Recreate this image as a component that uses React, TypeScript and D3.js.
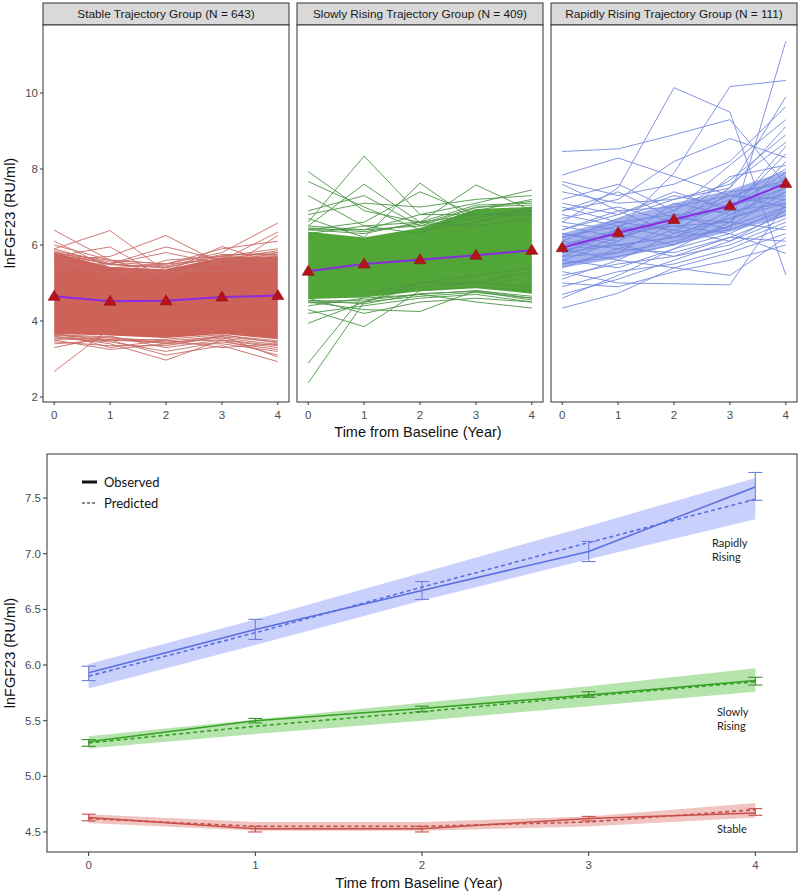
import React from "react";
import * as d3 from "d3";

// ---------- DATA ----------
const years = [0, 1, 2, 3, 4];
const yTicksTop = [2, 4, 6, 8, 10];
const yTicksBottom = [4.5, 5.0, 5.5, 6.0, 6.5, 7.0, 7.5];

const panelTitles = [
  "Stable Trajectory Group (N = 643)",
  "Slowly Rising Trajectory Group (N = 409)",
  "Rapidly Rising Trajectory Group (N = 111)",
];

// group means (top panels)
const stableMean = [4.65, 4.52, 4.53, 4.63, 4.67];
const slowMean = [5.31, 5.5, 5.61, 5.73, 5.86];
const rapidMean = [5.93, 6.32, 6.67, 7.03, 7.62];

// dense cores of individual trajectories (top panels)
const stableCoreUpper = [5.8, 5.42, 5.36, 5.68, 5.7];
const stableCoreLower = [3.66, 3.62, 3.55, 3.66, 3.52];
const slowCoreUpper = [6.35, 6.2, 6.45, 6.95, 7.0];
const slowCoreLower = [4.58, 4.62, 4.78, 4.86, 4.72];
const rapidCoreUpper = [6.3, 6.7, 7.1, 7.45, 7.95];
const rapidCoreLower = [5.4, 5.65, 6.0, 6.35, 6.75];

// individual trajectories outside the dense core
const stableLines = [
  [6.39, 5.6, 5.2, 5.5, 5.3],
  [6.1, 5.4, 5.3, 5.5, 5.6],
  [5.9, 6.38, 5.3, 5.3, 5.4],
  [5.7, 5.95, 5.1, 5.6, 5.6],
  [5.6, 5.7, 6.25, 5.5, 5.4],
  [5.5, 5.5, 5.95, 5.6, 5.7],
  [5.6, 5.3, 5.3, 5.96, 5.5],
  [5.5, 5.4, 5.5, 5.8, 6.58],
  [5.4, 5.3, 5.2, 5.6, 6.34],
  [5.8, 5.5, 5.4, 5.3, 6.25],
  [5.7, 5.1, 5.6, 5.7, 5.9],
  [6.0, 5.6, 5.5, 5.9, 6.1],
  [5.9, 5.5, 5.8, 5.5, 5.8],
  [5.85, 5.55, 5.45, 5.75, 5.75],
  [5.75, 5.5, 5.4, 5.72, 5.8],
  [5.82, 5.48, 5.42, 5.7, 5.72],
  [5.78, 5.6, 5.5, 5.62, 5.85],
  [2.67, 3.8, 3.9, 4.0, 3.8],
  [3.5, 3.25, 3.4, 3.4, 3.2],
  [3.6, 3.4, 2.97, 3.5, 3.3],
  [3.4, 3.5, 3.1, 3.35, 2.93],
  [3.3, 3.6, 3.3, 3.5, 3.1],
  [3.7, 3.3, 3.5, 3.3, 3.4],
  [3.55, 3.45, 3.2, 3.45, 3.25],
  [3.45, 3.35, 3.35, 3.6, 3.05],
  [3.62, 3.55, 3.48, 3.58, 3.45],
  [3.58, 3.5, 3.42, 3.55, 3.38],
  [3.64, 3.58, 3.4, 3.62, 3.48],
  [3.52, 3.52, 3.45, 3.5, 3.35],
  [3.66, 3.48, 3.52, 3.64, 3.42],
];
const slowLines = [
  [7.93, 6.9, 6.6, 6.5, 6.7],
  [7.67, 7.0, 6.4, 6.6, 7.0],
  [6.6, 8.34, 6.8, 6.8, 6.9],
  [6.5, 7.6, 6.6, 6.8, 6.8],
  [6.9, 7.3, 6.5, 6.7, 7.0],
  [6.7, 6.2, 7.63, 6.6, 6.9],
  [6.4, 6.6, 7.4, 6.8, 6.8],
  [6.3, 6.5, 6.6, 7.58, 6.9],
  [6.5, 6.4, 6.8, 7.1, 7.45],
  [7.3, 6.5, 6.3, 6.9, 7.2],
  [6.8, 7.1, 7.0, 7.2, 7.3],
  [6.45, 6.35, 6.55, 7.0, 7.05],
  [6.4, 6.3, 6.6, 7.05, 7.1],
  [6.42, 6.4, 6.5, 6.98, 7.15],
  [2.89, 4.7, 5.0, 5.2, 5.4],
  [2.37, 4.5, 5.0, 5.0, 5.3],
  [3.94, 4.5, 4.9, 5.0, 4.9],
  [4.3, 3.85, 4.8, 4.9, 4.8],
  [4.5, 4.3, 4.25, 4.8, 4.6],
  [4.4, 4.6, 4.7, 4.5, 4.34],
  [4.2, 4.4, 4.6, 4.7, 4.5],
  [4.6, 4.2, 4.5, 4.6, 4.5],
  [4.52, 4.55, 4.7, 4.8, 4.65],
  [4.48, 4.5, 4.65, 4.75, 4.6],
  [4.55, 4.45, 4.72, 4.78, 4.55],
];
const rapidLines = [
  [8.46, 8.53, 8.9, 9.3, 7.6],
  [6.6, 7.5, 10.14, 9.5, 5.21],
  [6.0, 6.4, 7.9, 10.17, 10.33],
  [5.8, 6.0, 6.2, 6.4, 11.36],
  [7.84, 8.29, 7.8, 7.3, 7.0],
  [7.67, 7.3, 7.6, 8.2, 9.64],
  [7.4, 7.1, 7.2, 7.5, 9.12],
  [7.6, 6.9, 7.0, 7.3, 7.2],
  [7.2, 7.6, 6.9, 7.7, 8.9],
  [7.1, 6.8, 7.4, 6.9, 8.6],
  [6.9, 7.2, 8.2, 8.8, 8.3],
  [6.8, 6.5, 6.9, 8.1, 9.3],
  [6.7, 7.0, 6.6, 7.2, 8.0],
  [6.5, 6.2, 6.6, 7.0, 7.9],
  [6.4, 6.9, 6.3, 7.4, 7.6],
  [6.3, 6.1, 7.1, 6.8, 7.5],
  [6.2, 6.6, 6.8, 6.9, 8.4],
  [6.1, 5.9, 6.4, 7.1, 7.3],
  [6.0, 6.3, 6.5, 6.6, 7.8],
  [5.9, 6.0, 6.2, 6.9, 7.1],
  [5.8, 6.4, 6.7, 7.3, 7.7],
  [5.7, 5.8, 6.1, 6.5, 7.0],
  [5.6, 6.1, 6.8, 6.4, 6.9],
  [5.5, 5.7, 6.0, 6.8, 7.4],
  [5.4, 5.9, 5.8, 6.2, 6.8],
  [5.3, 5.0, 4.98, 4.95, 7.1],
  [5.2, 5.5, 5.7, 6.0, 6.6],
  [5.1, 5.6, 6.3, 6.7, 7.2],
  [4.9, 5.3, 5.5, 5.9, 6.5],
  [4.7, 5.1, 5.6, 6.1, 6.9],
  [4.34, 4.73, 5.4, 5.8, 6.3],
  [4.6, 5.2, 5.9, 6.3, 7.0],
  [5.0, 4.9, 5.3, 5.6, 6.0],
  [6.6, 6.4, 6.5, 6.3, 5.78],
  [5.9, 5.6, 5.4, 5.2, 6.2],
  [6.3, 6.0, 5.7, 6.2, 6.1],
  [6.1, 6.7, 7.2, 7.6, 8.7],
  [5.7, 6.2, 6.6, 7.8, 8.1],
  [6.4, 6.8, 7.3, 7.0, 7.5],
  [5.5, 5.8, 6.6, 7.5, 9.9],
  [6.9, 7.4, 6.7, 6.6, 6.4],
  [7.0, 6.6, 6.4, 6.1, 6.7],
  [5.6, 5.4, 5.9, 6.6, 8.2],
  [6.2, 6.5, 6.2, 6.7, 7.1],
  [5.8, 6.3, 6.0, 6.5, 7.4],
];

// bottom panel: observed, predicted, CI band, error bars
const groupLabels = [["Rapidly", "Rising"], ["Slowly", "Rising"], ["Stable"]];
const rapidObserved = [5.93, 6.32, 6.67, 7.02, 7.6];
const rapidPredicted = [5.9, 6.29, 6.7, 7.1, 7.49];
const rapidBandLow = [5.79, 6.18, 6.58, 6.95, 7.31];
const rapidBandHigh = [6.01, 6.41, 6.83, 7.25, 7.68];
const rapidErrLow = [5.86, 6.23, 6.59, 6.93, 7.48];
const rapidErrHigh = [5.99, 6.41, 6.75, 7.11, 7.73];

const slowObserved = [5.31, 5.5, 5.61, 5.73, 5.86];
const slowPredicted = [5.3, 5.45, 5.58, 5.72, 5.85];
const slowBandLow = [5.25, 5.38, 5.5, 5.63, 5.76];
const slowBandHigh = [5.36, 5.51, 5.66, 5.81, 5.97];
const slowErrLow = [5.27, 5.48, 5.58, 5.71, 5.82];
const slowErrHigh = [5.33, 5.52, 5.63, 5.76, 5.89];

const stableObserved = [4.63, 4.53, 4.53, 4.62, 4.67];
const stablePredicted = [4.62, 4.55, 4.55, 4.59, 4.7];
const stableBandLow = [4.58, 4.51, 4.51, 4.55, 4.63];
const stableBandHigh = [4.66, 4.59, 4.59, 4.64, 4.76];
const stableErrLow = [4.6, 4.5, 4.5, 4.6, 4.65];
const stableErrHigh = [4.66, 4.55, 4.55, 4.64, 4.71];

// ---------- STYLES ----------
const FONT = "'Liberation Sans', Arial, sans-serif";
const LFONT = "Lato, 'Open Sans', sans-serif";
const AXIS_GRAY = "#4d4d4d";

const topGroups = [
  { mean: stableMean, up: stableCoreUpper, lo: stableCoreLower, lines: stableLines, color: "#cd6259", lineColor: "#c86b64", coreOpacity: 1 },
  { mean: slowMean, up: slowCoreUpper, lo: slowCoreLower, lines: slowLines, color: "#52a637", lineColor: "#4b9544", coreOpacity: 1 },
  { mean: rapidMean, up: rapidCoreUpper, lo: rapidCoreLower, lines: rapidLines, color: "#7d92e6", lineColor: "#7489e0", coreOpacity: 0.7 },
];

const bottomGroups = [
  { obs: rapidObserved, pred: rapidPredicted, bl: rapidBandLow, bh: rapidBandHigh, el: rapidErrLow, eh: rapidErrHigh, line: "#5a6ee0", band: "#c8d0fb", err: "#6c80dc" },
  { obs: slowObserved, pred: slowPredicted, bl: slowBandLow, bh: slowBandHigh, el: slowErrLow, eh: slowErrHigh, line: "#36a023", band: "#b5e4ad", err: "#3c8f2e" },
  { obs: stableObserved, pred: stablePredicted, bl: stableBandLow, bh: stableBandHigh, el: stableErrLow, eh: stableErrHigh, line: "#c65049", band: "#f2c4c1", err: "#c65049" },
];

function TopPanel({ idx }: { idx: number }) {
  const left = 43 + idx * 254;
  const width = 246;
  const top = 25;
  const bottom = 402;
  const x = d3.scaleLinear().domain([-0.2, 4.2]).range([left, left + width]);
  const y = d3.scaleLinear().domain([1.868, 11.79]).range([bottom, top]);
  const g = topGroups[idx];
  const line = d3.line<number>().x((_, i) => x(years[i])).y((v) => y(v));
  const area = d3
    .area<number>()
    .x((_, i) => x(years[i]))
    .y0((_, i) => y(g.lo[i]))
    .y1((_, i) => y(g.up[i]));
  return (
    <g>
      <rect x={left} y={3} width={width} height={22} fill="#d9d9d9" stroke="#333" strokeWidth={1} />
      <text x={left + width / 2} y={18} textAnchor="middle" fontFamily={FONT} fontSize={11.8} fill="#1a1a1a">
        {panelTitles[idx]}
      </text>
      <rect x={left} y={top} width={width} height={bottom - top} fill="#fff" />
      <path d={area(g.up) || ""} fill={g.color} opacity={g.coreOpacity} />
      {g.lines.map((l, i) => (
        <path key={i} d={line(l) || ""} fill="none" stroke={g.lineColor} strokeWidth={0.9} />
      ))}
      <path d={line(g.mean) || ""} fill="none" stroke="#8a2be2" strokeWidth={2} />
      {g.mean.map((v, i) => {
        const cx = x(years[i]);
        const cy = y(v);
        return (
          <path
            key={i}
            d={`M${cx},${cy - 6}L${cx + 6},${cy + 4}L${cx - 6},${cy + 4}Z`}
            fill="#b5121b"
            stroke="#8e0d14"
            strokeWidth={0.6}
          />
        );
      })}
      <rect x={left} y={top} width={width} height={bottom - top} fill="none" stroke="#333" strokeWidth={1} />
      {years.map((t) => (
        <g key={t}>
          <line x1={x(t)} x2={x(t)} y1={bottom} y2={bottom + 3} stroke="#333" />
          <text x={x(t)} y={419} textAnchor="middle" fontFamily={FONT} fontSize={11.5} fill={AXIS_GRAY}>
            {t}
          </text>
        </g>
      ))}
      {idx === 0 &&
        yTicksTop.map((t) => (
          <g key={t}>
            <line x1={left - 3} x2={left} y1={y(t)} y2={y(t)} stroke="#333" />
            <text x={left - 5} y={y(t) + 4} textAnchor="end" fontFamily={FONT} fontSize={11.5} fill={AXIS_GRAY}>
              {t}
            </text>
          </g>
        ))}
    </g>
  );
}

function BottomPanel() {
  const left = 47, right = 797, top = 454, bottom = 852;
  const x = d3.scaleLinear().domain([-0.25, 4.25]).range([left, right]);
  const y = d3.scaleLinear().domain([4.32, 7.896]).range([bottom, top]);
  const line = d3.line<number>().x((_, i) => x(years[i])).y((v) => y(v));
  const labelPos = [
    { x: 712, y: 547 },
    { x: 717, y: 716 },
    { x: 717, y: 833 },
  ];
  return (
    <g>
      <rect x={left} y={top} width={right - left} height={bottom - top} fill="#fff" />
      {bottomGroups.map((g, gi) => {
        const area = d3
          .area<number>()
          .x((_, i) => x(years[i]))
          .y0((_, i) => y(g.bl[i]))
          .y1((_, i) => y(g.bh[i]));
        return (
          <g key={gi}>
            <path d={area(g.bl) || ""} fill={g.band} />
            <path d={line(g.pred) || ""} fill="none" stroke={g.line} strokeWidth={1.6} strokeDasharray="4,3" />
            <path d={line(g.obs) || ""} fill="none" stroke={g.line} strokeWidth={1.5} />
            {years.map((t, i) => (
              <g key={t} stroke={g.err} strokeWidth={1.1}>
                <line x1={x(t)} x2={x(t)} y1={y(g.el[i])} y2={y(g.eh[i])} />
                <line x1={x(t) - 7} x2={x(t) + 7} y1={y(g.el[i])} y2={y(g.el[i])} />
                <line x1={x(t) - 7} x2={x(t) + 7} y1={y(g.eh[i])} y2={y(g.eh[i])} />
              </g>
            ))}
            {groupLabels[gi].map((s, k) => (
              <text key={k} x={labelPos[gi].x} y={labelPos[gi].y + k * 14} fontFamily={LFONT} fontSize={11} fill="#222">
                {s}
              </text>
            ))}
          </g>
        );
      })}
      <rect x={left} y={top} width={right - left} height={bottom - top} fill="none" stroke="#333" strokeWidth={1} />
      {yTicksBottom.map((t) => (
        <g key={t}>
          <line x1={left - 4} x2={left} y1={y(t)} y2={y(t)} stroke="#333" />
          <text x={left - 6} y={y(t) + 4} textAnchor="end" fontFamily={FONT} fontSize={11.5} fill={AXIS_GRAY}>
            {d3.format(".1f")(t)}
          </text>
        </g>
      ))}
      {years.map((t) => (
        <g key={t}>
          <line x1={x(t)} x2={x(t)} y1={bottom} y2={bottom + 4} stroke="#333" />
          <text x={x(t)} y={869} textAnchor="middle" fontFamily={FONT} fontSize={11.5} fill={AXIS_GRAY}>
            {t}
          </text>
        </g>
      ))}
      {/* legend */}
      <line x1={82} x2={97} y1={482} y2={482} stroke="#111" strokeWidth={3} />
      <text x={104} y={486.5} fontFamily={LFONT} fontSize={13} fill="#111">Observed</text>
      <line x1={82} x2={97} y1={503} y2={503} stroke="#111" strokeWidth={1.2} strokeDasharray="3,2" />
      <text x={104} y={507.5} fontFamily={LFONT} fontSize={13} fill="#111">Predicted</text>
      <text x={419} y={888} textAnchor="middle" fontFamily={FONT} fontSize={14.5} fill="#111">
        Time from Baseline (Year)
      </text>
      <text transform="translate(15,653) rotate(-90)" textAnchor="middle" fontFamily={FONT} fontSize={14.5} fill="#111">
        lnFGF23 (RU/ml)
      </text>
    </g>
  );
}

export default function App() {
  return (
    <svg width={800} height={895} style={{ position: "absolute", left: 0, top: 0, background: "#fff" }}>
      <rect width={800} height={895} fill="#fff" />
      {[0, 1, 2].map((i) => (
        <TopPanel key={i} idx={i} />
      ))}
      <text x={418} y={437} textAnchor="middle" fontFamily={FONT} fontSize={14.5} fill="#111">
        Time from Baseline (Year)
      </text>
      <text transform="translate(15,213) rotate(-90)" textAnchor="middle" fontFamily={FONT} fontSize={14.5} fill="#111">
        lnFGF23 (RU/ml)
      </text>
      <BottomPanel />
    </svg>
  );
}
